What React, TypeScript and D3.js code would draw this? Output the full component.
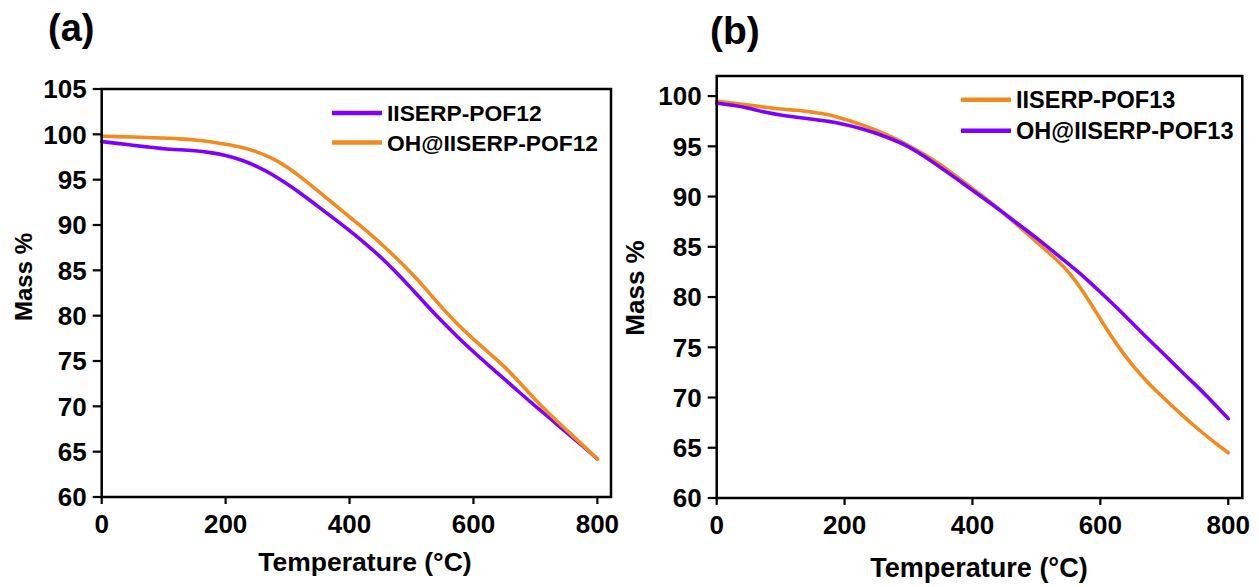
import React from "react";
import * as d3 from "d3";

// ---- Data ----
const temps = [0, 25, 50, 75, 100, 125, 150, 175, 200, 225, 250, 275, 300, 325, 350, 375, 400, 425, 450, 475, 500, 525, 550, 575, 600, 625, 650, 675, 700, 725, 750, 775, 800];

// Panel (a)
const pof12 = [99.2, 99.0, 98.8, 98.6, 98.4, 98.3, 98.2, 98.0, 97.7, 97.2, 96.5, 95.6, 94.5, 93.3, 92.0, 90.7, 89.4, 88.0, 86.5, 84.8, 83.0, 81.1, 79.3, 77.6, 76.0, 74.5, 73.0, 71.5, 70.0, 68.6, 67.1, 65.7, 64.2];
const ohPof12 = [99.8, 99.75, 99.7, 99.65, 99.6, 99.5, 99.4, 99.2, 98.9, 98.6, 98.1, 97.4, 96.4, 95.1, 93.7, 92.3, 90.9, 89.5, 88.0, 86.4, 84.7, 82.8, 80.8, 79.0, 77.4, 75.9, 74.4, 72.6, 70.7, 69.0, 67.4, 65.8, 64.2];

// Panel (b)
const pof13 = [99.5, 99.3, 99.1, 98.9, 98.7, 98.6, 98.4, 98.2, 97.7, 97.2, 96.6, 95.9, 95.1, 94.2, 93.2, 92.0, 90.8, 89.6, 88.3, 86.9, 85.5, 84.1, 82.6, 80.4, 77.8, 75.3, 73.2, 71.4, 69.9, 68.4, 67.0, 65.7, 64.5];
const ohPof13 = [99.3, 99.1, 98.8, 98.4, 98.1, 97.9, 97.7, 97.5, 97.2, 96.8, 96.3, 95.7, 95.0, 94.0, 92.9, 91.8, 90.6, 89.5, 88.3, 87.1, 85.9, 84.6, 83.3, 82.0, 80.5, 79.0, 77.4, 75.8, 74.3, 72.7, 71.2, 69.6, 67.9];

const xTicks = [0, 200, 400, 600, 800];
const yTicksA = [60, 65, 70, 75, 80, 85, 90, 95, 100, 105];
const yTicksB = [60, 65, 70, 75, 80, 85, 90, 95, 100];

const PURPLE = "#7f00ff";
const ORANGE = "#f28a1e";
const FONT = "'Liberation Sans', Arial, Helvetica, sans-serif";

type Series = { name: string; values: number[]; color: string };

type PanelProps = {
  label: string;
  labelPos: [number, number, number];
  x0: number; x1: number; y0: number; y1: number;
  yDomain: [number, number];
  yTicks: number[];
  series: Series[];
  legendX: number; legendY: number; legendGap: number; legendFont: number;
  xTitle: [number, number, number];
  yTitle: [number, number, number];
  tickFont: number;
};

function Panel(p: PanelProps) {
  const x = d3.scaleLinear().domain([0, 822]).range([p.x0, p.x1]);
  const y = d3.scaleLinear().domain(p.yDomain).range([p.y1, p.y0]);
  const line = d3
    .line<number>()
    .x((_, i) => x(temps[i]))
    .y((d) => y(d))
    .curve(d3.curveBasis);
  return (
    <g>
      <text x={p.labelPos[0]} y={p.labelPos[1]} fontFamily={FONT} fontWeight="bold" fontSize={p.labelPos[2]} fill="#000">
        {p.label}
      </text>
      {p.series.map((s) => (
        <path key={s.name} d={line(s.values) || ""} fill="none" stroke={s.color} strokeWidth={3.6} strokeLinejoin="round" strokeLinecap="round" />
      ))}
      <rect x={p.x0} y={p.y0} width={p.x1 - p.x0} height={p.y1 - p.y0} fill="none" stroke="#000" strokeWidth={2.5} />
      {p.yTicks.map((t) => (
        <g key={"y" + t}>
          <line x1={p.x0 - 9} x2={p.x0} y1={y(t)} y2={y(t)} stroke="#000" strokeWidth={2.2} />
          <text x={p.x0 - 15} y={y(t)} dy="0.36em" textAnchor="end" fontFamily={FONT} fontWeight="bold" fontSize={p.tickFont} fill="#000">
            {t}
          </text>
        </g>
      ))}
      {xTicks.map((t) => (
        <g key={"x" + t}>
          <line x1={x(t)} x2={x(t)} y1={p.y1} y2={p.y1 + 7} stroke="#000" strokeWidth={2.2} />
          <text x={x(t)} y={p.y1 + 36} textAnchor="middle" fontFamily={FONT} fontWeight="bold" fontSize={p.tickFont} fill="#000">
            {t}
          </text>
        </g>
      ))}
      <text x={p.xTitle[0]} y={p.xTitle[1]} textAnchor="middle" fontFamily={FONT} fontWeight="bold" fontSize={p.xTitle[2]} fill="#000">
        Temperature (°C)
      </text>
      <text
        transform={`translate(${p.yTitle[0]},${p.yTitle[1]}) rotate(-90)`}
        textAnchor="middle"
        dy="0.36em"
        fontFamily={FONT}
        fontWeight="bold"
        fontSize={p.yTitle[2]}
        fill="#000"
      >
        Mass %
      </text>
      {p.series.map((s, i) => (
        <g key={"lg" + s.name}>
          <line x1={p.legendX} x2={p.legendX + 50} y1={p.legendY + i * p.legendGap} y2={p.legendY + i * p.legendGap} stroke={s.color} strokeWidth={4.5} />
          <text x={p.legendX + 55} y={p.legendY + i * p.legendGap} dy="0.36em" fontFamily={FONT} fontWeight="bold" fontSize={p.legendFont} fill="#000">
            {s.name}
          </text>
        </g>
      ))}
    </g>
  );
}

export default function App() {
  return (
    <svg width={1259} height={587} style={{ position: "absolute", left: 0, top: 0, background: "#fff" }}>
      <rect x={0} y={0} width={1259} height={587} fill="#fff" />
      <Panel
        label="(a)"
        labelPos={[48, 41, 38]}
        x0={101.7}
        x1={611}
        y0={89}
        y1={497}
        yDomain={[60, 105]}
        yTicks={yTicksA}
        series={[
          { name: "IISERP-POF12", values: pof12, color: PURPLE },
          { name: "OH@IISERP-POF12", values: ohPof12, color: ORANGE },
        ]}
        legendX={332}
        legendY={113}
        legendGap={29.5}
        legendFont={22.8}
        xTitle={[365, 571, 26.5]}
        yTitle={[23, 277, 24]}
        tickFont={26}
      />
      <Panel
        label="(b)"
        labelPos={[710, 44, 39]}
        x0={716.7}
        x1={1242.3}
        y0={76}
        y1={498}
        yDomain={[60, 102]}
        yTicks={yTicksB}
        series={[
          { name: "IISERP-POF13", values: pof13, color: ORANGE },
          { name: "OH@IISERP-POF13", values: ohPof13, color: PURPLE },
        ]}
        legendX={961}
        legendY={99.7}
        legendGap={31}
        legendFont={23.5}
        xTitle={[979, 577, 27]}
        yTitle={[635, 288, 26]}
        tickFont={26}
      />
    </svg>
  );
}
